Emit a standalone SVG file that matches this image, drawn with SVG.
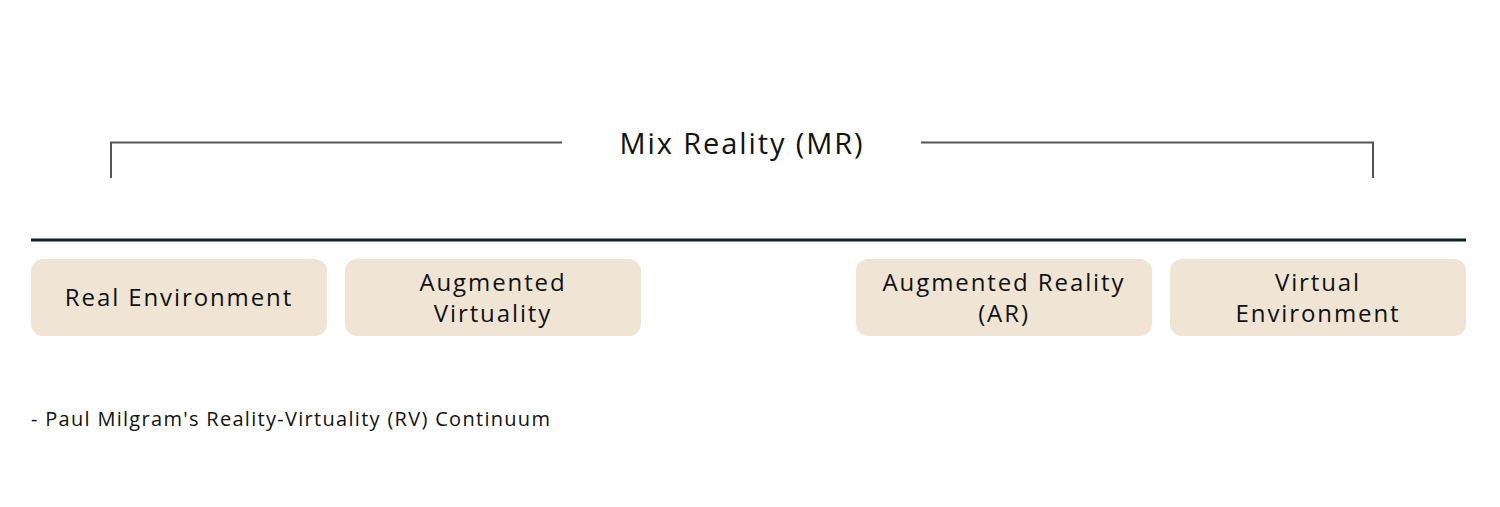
<svg xmlns="http://www.w3.org/2000/svg" width="1500" height="507" viewBox="0 0 1500 507">
<style>
.box{fill:#f0e5d5}
.lbl{font-family:"Open Sans","Noto Sans",sans-serif;font-size:24px;fill:#111;text-anchor:middle;letter-spacing:1.9px}
.br{fill:none;stroke:#555;stroke-width:2}
</style>
<rect width="1500" height="507" fill="#fff"/>
<g id="connectors">
<path class="br" d="M111,178 V142.5 H562"/>
<path class="br" d="M921,142.5 H1373 V178"/>
<line x1="31" y1="240" x2="1466" y2="240" stroke="#10212e" stroke-width="3"/>
</g>
<g id="title"><text x="742" y="154" class="lbl" style="font-size:29px;letter-spacing:1.9px">Mix Reality (MR)</text></g>
<g id="real"><rect class="box" x="31" y="259" width="296" height="77" rx="12"/><text class="lbl" x="179" y="306">Real Environment</text></g>
<g id="av"><rect class="box" x="345" y="259" width="296" height="77" rx="12"/><text class="lbl" x="493" y="291">Augmented</text><text class="lbl" x="493" y="322">Virtuality</text></g>
<g id="ar"><rect class="box" x="856" y="259" width="296" height="77" rx="12"/><text class="lbl" x="1004" y="291">Augmented Reality</text><text class="lbl" x="1004" y="322">(AR)</text></g>
<g id="ve"><rect class="box" x="1170" y="259" width="296" height="77" rx="12"/><text class="lbl" x="1318" y="291">Virtual</text><text class="lbl" x="1318" y="322">Environment</text></g>
<g id="caption"><text x="31" y="426" font-family="Open Sans, Noto Sans, sans-serif" font-size="20" letter-spacing="1.3" fill="#111">- Paul Milgram's Reality-Virtuality (RV) Continuum</text></g>
</svg>
